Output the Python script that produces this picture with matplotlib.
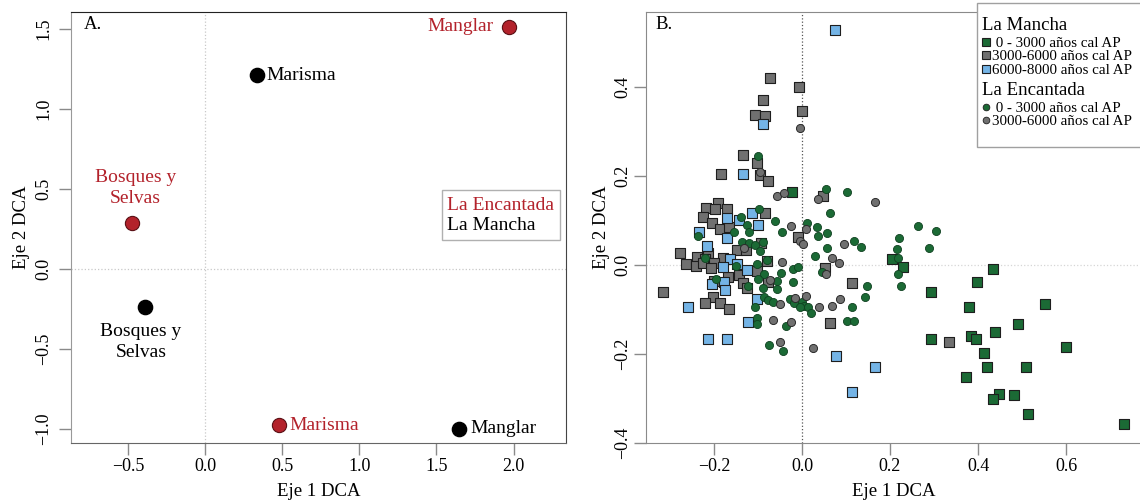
import matplotlib
matplotlib.use('Agg')
import matplotlib.pyplot as plt
from matplotlib.lines import Line2D
from matplotlib.patches import Rectangle

plt.rcParams['font.family'] = ['Liberation Serif', 'DejaVu Serif']

# ---- panel A data: DCA scores of the vegetation types
habitats = ['Bosques y\nSelvas', 'Marisma', 'Manglar']
mancha_x = [-0.387, 0.336, 1.645]
mancha_y = [-0.24, 1.21, -1.0]
encantada_x = [-0.477, 0.48, 1.97]
encantada_y = [0.29, -0.978, 1.514]

# ---- panel B data: sample scores
lm_0_3000_x = [-0.023, 0.205, 0.23, 0.434, 0.398, 0.293, 0.38, 0.552, 0.491, 0.439, 0.293, 0.384,
               0.395, 0.6, 0.414, 0.42, 0.509, 0.373, 0.448, 0.434, 0.482, 0.514, 0.732]
lm_0_3000_y = [0.164, 0.013, -0.004, -0.009, -0.038, -0.061, -0.094, -0.088, -0.133, -0.151, -0.166, -0.16,
               -0.166, -0.184, -0.198, -0.229, -0.229, -0.252, -0.29, -0.301, -0.292, -0.335, -0.357]

lm_3000_6000_x = [-0.073, -0.007, -0.089, -0.107, -0.084, 0.0, -0.134, -0.102, -0.184, -0.095, -0.077, 0.048,
                  -0.19, -0.218, -0.198, -0.17, -0.225, -0.084, -0.205, -0.186, -0.166, -0.009, -0.093, -0.148,
                  -0.127, -0.277, -0.214, -0.239, -0.22, -0.264, -0.241, -0.18, -0.2, -0.225, -0.207, -0.102,
                  -0.08, 0.052, -0.143, -0.168, -0.2, -0.077, -0.134, -0.125, 0.114, -0.316, -0.202, -0.22,
                  -0.186, -0.166, 0.064, 0.334]
lm_3000_6000_y = [0.42, 0.40, 0.37, 0.337, 0.335, 0.346, 0.247, 0.229, 0.204, 0.202, 0.189, 0.155,
                  0.139, 0.128, 0.126, 0.126, 0.108, 0.117, 0.094, 0.081, 0.085, 0.063, 0.049, 0.034,
                  0.034, 0.027, 0.027, 0.018, 0.013, 0.002, -0.002, 0.016, 0.004, 0.004, -0.007, -0.013,
                  0.009, -0.007, -0.022, -0.027, -0.036, -0.038, -0.04, -0.052, -0.04, -0.061, -0.072, -0.085,
                  -0.085, -0.099, -0.13, -0.173]

lm_6000_8000_x = [0.075, -0.089, -0.134, -0.114, -0.17, -0.143, -0.1, -0.234, -0.17, -0.216, -0.164, -0.18,
                  -0.148, -0.125, -0.205, -0.177, -0.175, -0.102, -0.259, -0.123, -0.214, -0.17, 0.077, 0.166,
                  0.114]
lm_6000_8000_y = [0.528, 0.317, 0.204, 0.117, 0.106, 0.101, 0.09, 0.074, 0.06, 0.043, 0.013, -0.004,
                  0.002, -0.011, -0.043, -0.038, -0.056, -0.076, -0.094, -0.128, -0.166, -0.166, -0.204, -0.229,
                  -0.285]

le_0_3000_x = [-0.1, 0.055, 0.102, 0.064, -0.098, -0.139, -0.061, -0.125, 0.011, 0.034, -0.045, -0.12,
               -0.155, -0.236, 0.057, 0.036, 0.118, 0.134, -0.136, -0.12, -0.107, -0.089, -0.095, 0.057,
               -0.22, 0.03, -0.15, -0.102, -0.08, -0.02, -0.009, 0.045, -0.048, -0.086, -0.195, -0.057,
               -0.02, -0.1, -0.123, -0.089, -0.057, 0.148, 0.143, -0.086, -0.077, -0.066, -0.027, -0.018,
               0.0, 0.005, -0.107, -0.005, 0.014, 0.02, 0.114, -0.102, -0.102, -0.036, 0.102, 0.118,
               -0.075, -0.043, 0.264, 0.305, 0.22, 0.216, 0.289, 0.218, 0.218, 0.225]
le_0_3000_y = [0.245, 0.171, 0.164, 0.117, 0.126, 0.108, 0.099, 0.09, 0.094, 0.085, 0.074, 0.074,
               0.074, 0.065, 0.072, 0.065, 0.054, 0.04, 0.052, 0.049, 0.045, 0.052, 0.031, 0.038,
               0.016, 0.02, -0.002, 0.002, 0.011, -0.009, -0.004, -0.015, -0.018, -0.02, -0.031, -0.036,
               -0.038, -0.031, -0.047, -0.052, -0.054, -0.047, -0.072, -0.072, -0.079, -0.083, -0.076, -0.085,
               -0.083, -0.092, -0.094, -0.094, -0.094, -0.108, -0.094, -0.119, -0.133, -0.137, -0.126, -0.126,
               -0.18, -0.193, 0.088, 0.077, 0.061, 0.036, 0.038, 0.016, -0.02, -0.047]

le_3000_6000_x = [-0.004, -0.095, -0.057, -0.041, 0.036, 0.166, -0.025, 0.009, -0.005, 0.002, 0.095, -0.132,
                  0.068, 0.084, -0.045, 0.055, -0.073, 0.009, -0.016, -0.05, 0.039, 0.068, 0.086, -0.066,
                  -0.025, -0.05, 0.025]
le_3000_6000_y = [0.308, 0.209, 0.155, 0.162, 0.149, 0.142, 0.088, 0.081, 0.054, 0.047, 0.047, 0.038,
                  0.016, 0.004, 0.007, -0.02, -0.034, -0.07, -0.074, -0.088, -0.094, -0.092, -0.076, -0.124,
                  -0.128, -0.173, -0.187]

legend_labels = [' 0 - 3000 años cal AP', '3000-6000 años cal AP', '6000-8000 años cal AP']

RED = '#b3222b'
GREEN = '#1b6a35'
GREY = '#707070'
BLUE = '#74b4e6'

fig = plt.figure(figsize=(11.4, 5.03), dpi=100)
axA = fig.add_axes([71 / 1140, 60 / 503, 495 / 1140, 431 / 503])
axB = fig.add_axes([646 / 1140, 60 / 503, 496 / 1140, 431 / 503])

for ax in (axA, axB):
    ax.tick_params(length=8.6, width=1, color='#8a8a8a', labelsize=13)
    ax.tick_params(axis='x', pad=2)

axA.tick_params(axis='y', pad=5)
axB.tick_params(axis='y', pad=2)

# ---------------- panel A
axA.axvline(0, color='#c8c8c8', lw=0.9, ls=':', zorder=0)
axA.axhline(0, color='#c8c8c8', lw=0.9, ls=':', zorder=0)
axA.scatter(mancha_x, mancha_y, s=105, c='black', zorder=3)
axA.scatter(encantada_x, encantada_y, s=105, c=RED, edgecolors='#5a1015', linewidths=0.8, zorder=3)

# label offsets in points for Bosques, Marisma, Manglar
mancha_off = [((-3.4, -25), 'center'), ((7, 0), 'left'), ((8.5, 0), 'left')]
encantada_off = [((2.9, 25), 'center'), ((7, 0), 'left'), ((-11, 0), 'right')]
for name, x, y, (off, ha) in zip(habitats, mancha_x, mancha_y, mancha_off):
    axA.annotate(name, (x, y), xytext=off, textcoords='offset points', ha=ha, va='center',
                 fontsize=14, color='black', linespacing=1.35)
for name, x, y, (off, ha) in zip(habitats, encantada_x, encantada_y, encantada_off):
    axA.annotate(name, (x, y), xytext=off, textcoords='offset points', ha=ha, va='center',
                 fontsize=14, color=RED, linespacing=1.35)

sites = [Line2D([], [], ls='none'), Line2D([], [], ls='none')]
legA = axA.legend(sites, ['La Encantada', 'La Mancha'], labelcolor=[RED, 'black'],
                  loc='center', bbox_to_anchor=(1.9175, 0.3355), bbox_transform=axA.transData,
                  handlelength=0, handletextpad=0, fontsize=14, labelspacing=0.15,
                  borderpad=0.3, fancybox=False, framealpha=1, edgecolor='#b0b0b0')
legA.get_frame().set_linewidth(1.0)

axA.set_xlim(-0.87, 2.34)
axA.set_ylim(-1.0875, 1.606)
axA.set_xticks([-0.5, 0.0, 0.5, 1.0, 1.5, 2.0])
axA.set_yticks([-1.0, -0.5, 0.0, 0.5, 1.0, 1.5])
axA.set_xlabel('Eje 1 DCA', fontsize=13.5, labelpad=6)
axA.set_ylabel('Eje 2 DCA', fontsize=13.5, labelpad=4)
axA.spines['top'].set_color('#222222')
axA.spines['right'].set_color('#444444')
axA.spines['left'].set_color('#999999')
axA.spines['bottom'].set_color('#666666')
axA.text(0.025, 0.99, 'A.', transform=axA.transAxes, fontsize=13.5, va='top', ha='left')
for lab in axA.get_yticklabels():
    lab.set_rotation(90)
    lab.set_va('center')

# ---------------- panel B
axB.axvline(0, color='#555555', lw=0.9, ls=':', zorder=0)
axB.axhline(0, color='#d6d6d6', lw=0.9, ls=':', zorder=0)
sq = dict(marker='s', s=56, edgecolors='#1e1e1e', linewidths=0.8, zorder=2)
axB.scatter(lm_0_3000_x, lm_0_3000_y, c=GREEN, **sq)
axB.scatter(lm_3000_6000_x, lm_3000_6000_y, c=GREY, **sq)
axB.scatter(lm_6000_8000_x, lm_6000_8000_y, c=BLUE, **sq)
axB.scatter(le_0_3000_x, le_0_3000_y, marker='o', s=34, c=GREEN, edgecolors='#0f4020',
            linewidths=0.6, zorder=3)
axB.scatter(le_3000_6000_x, le_3000_6000_y, marker='o', s=34, c=GREY, edgecolors='#2a2a2a',
            linewidths=0.7, zorder=3)

axB.set_xlim(-0.3545, 0.7727)
axB.set_ylim(-0.40, 0.5685)
axB.set_xticks([-0.2, 0.0, 0.2, 0.4, 0.6])
axB.set_yticks([-0.4, -0.2, 0.0, 0.2, 0.4])
axB.set_xlabel('Eje 1 DCA', fontsize=13.5, labelpad=6)
axB.set_ylabel('Eje 2 DCA', fontsize=13.5, labelpad=3)
for s in ('top', 'left', 'bottom', 'right'):
    axB.spines[s].set_color('#8a8a8a')
axB.text(0.02, 0.99, 'B.', transform=axB.transAxes, fontsize=13.5, va='top', ha='left')
for lab in axB.get_yticklabels():
    lab.set_rotation(90)
    lab.set_va('center')

# legend of panel B: two stacked blocks inside one frame
x0 = 331 / 496
hm = [Line2D([], [], marker='s', ls='none', ms=5.5, mfc=c, mec='#1e1e1e', mew=0.8)
      for c in (GREEN, GREY, BLUE)]
he = [Line2D([], [], marker='o', ls='none', ms=4.8, mfc=c, mec='#1e1e1e', mew=0.6)
      for c in (GREEN, GREY)]
common = dict(loc='upper left', frameon=False, alignment='left', fontsize=10.8,
              title_fontsize=13.5, handlelength=0.55, handletextpad=0.12, labelspacing=0.0,
              borderpad=0.3, borderaxespad=0, bbox_transform=axB.transAxes)
leg1 = axB.legend(hm, legend_labels, title='La Mancha', bbox_to_anchor=(x0, 1.0), **common)
axB.add_artist(leg1)
leg2 = axB.legend(he, legend_labels[:2], title='La Encantada', bbox_to_anchor=(x0, 0.849), **common)
for lg in (leg1, leg2):
    lg._legend_box.sep = 2
axB.add_patch(Rectangle((x0, 0.686), 1 - x0 + 0.02, 0.314 + 0.02, transform=axB.transAxes,
                        fill=True, facecolor='white', edgecolor='#a0a0a0', lw=1.0,
                        clip_on=False, zorder=4))
leg1.set_zorder(5)
leg2.set_zorder(5)

fig.savefig('out.png', dpi=100)
